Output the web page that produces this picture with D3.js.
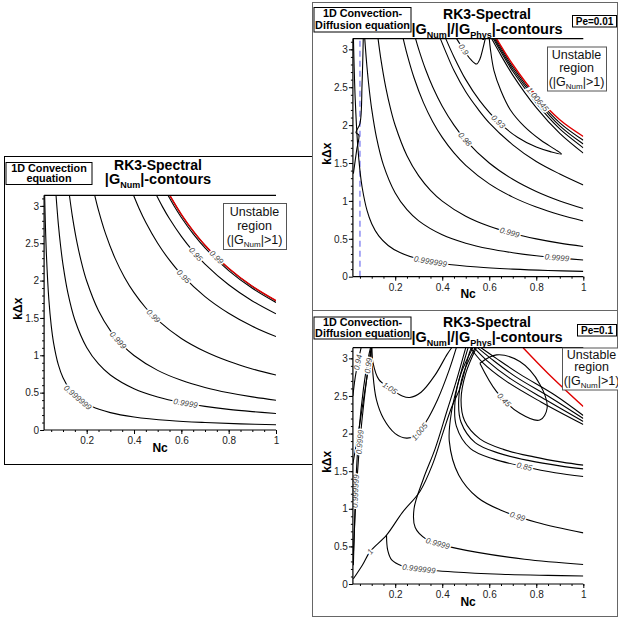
<!DOCTYPE html>
<html>
<head>
<meta charset="utf-8">
<script src="https://cdn.jsdelivr.net/npm/d3@7"></script>
<style>
  body { margin: 0; background: #fff; }
  svg { display: block; }
  text { font-family: "Liberation Sans", Arial, Helvetica, sans-serif; }
</style>
</head>
<body>
<svg width="618" height="619"></svg>
<script>
const svg = d3.select("svg");

// ---------------- data ----------------
const xDomain = [0.02, 1];
const kMax = Math.PI;
const xMajor = [0.2, 0.4, 0.6, 0.8, 1];
const yMajor = [0, 0.5, 1, 1.5, 2, 2.5, 3];

// left panel: 1D convection, |G_Num| contours  [Nc, k dx]
const convLines = [
  [[0.0223,3.1416],[0.025,2.8],[0.03,2.333],[0.04,1.75],[0.05,1.4],[0.06,1.167],[0.08,0.875],[0.1,0.7],[0.13,0.538],[0.17,0.412],[0.22,0.318],[0.3,0.233],[0.4,0.175],[0.55,0.127],[0.7,0.1],[0.85,0.082],[1,0.07]],
  [[0.0704,3.1416],[0.08,2.763],[0.09,2.456],[0.1,2.21],[0.12,1.842],[0.15,1.473],[0.2,1.105],[0.25,0.884],[0.3,0.737],[0.4,0.553],[0.5,0.442],[0.6,0.368],[0.7,0.316],[0.8,0.276],[0.9,0.246],[1,0.221]],
  [[0.127,3.1416],[0.14,2.85],[0.16,2.494],[0.18,2.217],[0.2,1.995],[0.25,1.596],[0.3,1.33],[0.35,1.14],[0.4,0.998],[0.5,0.798],[0.6,0.665],[0.7,0.57],[0.8,0.499],[0.9,0.443],[1,0.399]],
  [[0.234,3.1416],[0.25,2.94],[0.28,2.625],[0.32,2.297],[0.36,2.042],[0.4,1.838],[0.45,1.633],[0.5,1.47],[0.6,1.225],[0.7,1.05],[0.8,0.919],[0.9,0.817],[1,0.735]],
  [[0.398,3.1416],[0.42,2.976],[0.45,2.778],[0.5,2.5],[0.55,2.273],[0.6,2.083],[0.7,1.786],[0.8,1.563],[0.9,1.389],[1,1.25]],
  [[0.495,3.1416],[0.52,2.99],[0.55,2.827],[0.6,2.592],[0.65,2.392],[0.7,2.221],[0.8,1.944],[0.9,1.728],[1,1.555]],
  [[0.5434,3.1416],[0.57,2.995],[0.6,2.845],[0.65,2.626],[0.7,2.439],[0.8,2.134],[0.9,1.897],[1,1.707]],
  [[0.5504,3.1416],[0.6,2.882],[0.65,2.66],[0.7,2.47],[0.8,2.161],[0.9,1.921],[1,1.729]]
];
const convUnstable = [[0.5513,3.1416],[0.6,2.887],[0.65,2.665],[0.7,2.474],[0.8,2.165],[0.9,1.924],[1,1.732]];
const convLabelText = ["0.999999","0.9999","0.999","0.99","0.95","0.95","0.99"];
const convLabelAt = [[0.165,0.446],[0.615,0.335],[0.334,1.205],[0.489,1.54],[0.608,2.05],[0.653,2.33],[0.749,2.31]];

// top right: convection-diffusion, Pe = 0.01
const pe1Lines = [
  [[0.064,3.1416],[0.059,2.55],[0.05,2.02],[0.033,1.9],[0.045,1.87],[0.036,1.67],[0.022,1.36]],
  [[0.0223,3.1416],[0.025,2.8],[0.03,2.333],[0.04,1.75],[0.05,1.4],[0.06,1.167],[0.08,0.875],[0.1,0.7],[0.13,0.538],[0.17,0.412],[0.22,0.318],[0.3,0.233],[0.4,0.175],[0.55,0.127],[0.7,0.1],[0.85,0.082],[1,0.07]],
  [[0.0704,3.1416],[0.08,2.763],[0.09,2.456],[0.1,2.21],[0.12,1.842],[0.15,1.473],[0.2,1.105],[0.25,0.884],[0.3,0.737],[0.4,0.553],[0.5,0.442],[0.6,0.368],[0.7,0.316],[0.8,0.276],[0.9,0.246],[1,0.221]],
  [[0.127,3.1416],[0.14,2.85],[0.16,2.494],[0.18,2.217],[0.2,1.995],[0.25,1.596],[0.3,1.33],[0.35,1.14],[0.4,0.998],[0.5,0.798],[0.6,0.665],[0.7,0.57],[0.8,0.499],[0.9,0.443],[1,0.399]],
  [[0.234,3.1416],[0.25,2.94],[0.28,2.625],[0.32,2.297],[0.36,2.042],[0.4,1.838],[0.45,1.633],[0.5,1.47],[0.6,1.225],[0.7,1.05],[0.8,0.919],[0.9,0.817],[1,0.735]],
  [[0.2865,3.1416],[0.3,3.0],[0.33,2.727],[0.36,2.5],[0.4,2.25],[0.45,2.0],[0.5,1.8],[0.6,1.5],[0.7,1.286],[0.8,1.125],[0.9,1.0],[1,0.9]],
  [[0.392,3.1416],[0.42,2.93],[0.45,2.72],[0.5,2.44],[0.55,2.22],[0.6,2.03],[0.7,1.74],[0.8,1.52],[0.9,1.355],[1,1.21]],
  [[0.415,3.1416],[0.45,2.9],[0.5,2.6],[0.56,2.32],[0.638,2.045],[0.72,1.84],[0.8,1.71],[0.86,1.65],[0.907,1.62],[0.88,1.68],[0.82,1.8],[0.75,1.98],[0.69,2.2],[0.65,2.45],[0.62,2.72],[0.605,3.0],[0.6,3.1416]],
  [[0.461,3.1416],[0.49,3.0],[0.52,2.87],[0.546,2.806],[0.56,2.87],[0.572,3.0],[0.583,3.1416]],
  [[0.61,3.1416],[0.65,2.92],[0.7,2.66],[0.8,2.23],[0.9,1.89],[1,1.63]],
  [[0.617,3.1416],[0.7,2.71],[0.8,2.29],[0.9,1.95],[1,1.70]],
  [[0.622,3.1416],[0.7,2.74],[0.8,2.33],[0.9,1.99],[1,1.75]],
  [[0.627,3.1416],[0.7,2.77],[0.8,2.36],[0.9,2.03],[1,1.80]]
];
const pe1Unstable = [[0.631,3.1416],[0.7,2.80],[0.8,2.39],[0.9,2.07],[1,1.85]];
const pe1Dashed = 0.05;
const pe1LabelText = ["0.9","0.93","0.98","1.00645","0.999","0.9999","0.999999"];
const pe1LabelAt = [[0.482,2.98],[0.638,2.045],[0.492,1.8],[0.815,2.36],[0.687,0.6],[0.886,0.25],[0.348,0.2]];

// bottom right: convection-diffusion, Pe = 0.1
const pe2Lines = [
  [[0.022,0.07],[0.06,0.25],[0.093,0.43],[0.163,0.65],[0.23,0.95],[0.305,1.23],[0.36,1.6],[0.404,2.02],[0.44,2.35],[0.475,2.6],[0.517,3.09],[0.525,3.1416]],
  [[0.163,0.65],[0.168,0.45],[0.185,0.32],[0.23,0.24],[0.3,0.2],[0.45,0.16],[0.65,0.13],[0.85,0.115],[1,0.107]],
  [[0.5,3.1416],[0.46,2.7],[0.42,2.3],[0.37,1.8],[0.32,1.4],[0.28,1.0],[0.285,0.75],[0.33,0.6],[0.4,0.52],[0.55,0.42],[0.75,0.33],[1,0.26]],
  [[0.51,3.1416],[0.47,2.7],[0.44,2.3],[0.43,1.9],[0.47,1.45],[0.55,1.15],[0.65,0.98],[0.8,0.82],[1,0.68]],
  [[0.53,3.1416],[0.48,2.8],[0.455,2.45],[0.46,2.1],[0.52,1.8],[0.62,1.66],[0.75,1.56],[0.88,1.48],[1,1.43]],
  [[0.54,3.1416],[0.49,2.8],[0.47,2.45],[0.48,2.15],[0.54,1.88],[0.64,1.74],[0.77,1.64],[0.9,1.57],[1,1.53]],
  [[0.545,3.1416],[0.5,2.8],[0.48,2.45],[0.495,2.17],[0.56,1.93],[0.66,1.79],[0.79,1.69],[0.91,1.62],[1,1.58]],
  [[0.1,3.1416],[0.105,2.8],[0.12,2.45],[0.15,2.2],[0.2,2.0],[0.248,1.94],[0.29,1.98],[0.33,2.15],[0.38,2.45],[0.43,2.85],[0.46,3.1416]],
  [[0.1,3.1416],[0.105,2.95],[0.13,2.72],[0.178,2.6],[0.23,2.5],[0.262,2.48],[0.31,2.55],[0.37,2.78],[0.42,3.05],[0.44,3.1416]],
  [[0.022,0.25],[0.027,0.8],[0.032,1.3],[0.045,2.0],[0.065,2.6],[0.085,3.0],[0.095,3.1416]],
  [[0.022,0.4],[0.03,0.95],[0.04,1.5],[0.05,1.9],[0.068,2.45],[0.088,2.95],[0.098,3.1416]],
  [[0.02,1.6],[0.045,2.05],[0.06,2.35],[0.08,2.75],[0.095,3.05],[0.1,3.1416]],
  [[0.02,2.5],[0.03,2.75],[0.045,3.0],[0.055,3.1416]],
  [[0.52,3.1416],[0.57,2.95],[0.67,2.7],[0.82,2.42],[1,2.12]],
  [[0.535,3.1416],[0.59,2.97],[0.69,2.73],[0.84,2.45],[1,2.16]],
  [[0.55,3.1416],[0.61,2.99],[0.71,2.76],[0.86,2.48],[1,2.2]],
  [[0.565,3.1416],[0.63,3.0],[0.73,2.79],[0.88,2.51],[1,2.24]],
  [[0.56,2.935],[0.631,3.046],[0.73,2.957],[0.815,2.657],[0.846,2.336],[0.815,2.18],[0.73,2.269],[0.631,2.558],[0.56,2.935]]
];
const pe2Unstable = [[0.744,3.1416],[0.85,2.8],[1,2.36]];
const pe2LabelText = ["1","0.999999","0.9999","0.99","0.85","1.005","1.05","0.45","0.999999","0.9999","0.99","0.94"];
const pe2LabelAt = [[0.093,0.43],[0.3,0.2],[0.38,0.55],[0.72,0.9],[0.75,1.56],[0.294,2.05],[0.178,2.62],[0.68,2.5],[0.03,1.23],[0.048,1.89],[0.085,2.9],[0.036,2.95]];

// ---------------- layout ----------------
const panels = [
  {
    frame: [4, 156, 308, 308], frameColor: "#000",
    px: [44.1, 276], py: [430, 195.3],
    lines: convLines, red: convUnstable, labelText: convLabelText, labelAt: convLabelAt,
    box: [5.5, 162, 86, 22], boxLines: ["1D Convection", "equation"], boxBase: [171.5, 182],
    title: [158, 169.5, 184], ratio: false,
    unstable: [223, 203, 63, 46], unstableBase: [216, 229.5, 244], unstableX: 254.5
  },
  {
    frame: [312, 2, 305, 308], frameColor: "#666",
    px: [352.9, 583.3], py: [276.7, 38.6],
    lines: pe1Lines, red: pe1Unstable, labelText: pe1LabelText, labelAt: pe1LabelAt, dashed: pe1Dashed,
    box: [313.5, 7, 97, 24.5], boxLines: ["1D Convection-", "Diffusion equation"], boxBase: [17, 28.5],
    title: [487, 18.5, 33.5], ratio: true,
    pe: "Pe=0.01", peBox: [572, 15, 44, 11.5],
    unstable: [547, 46.5, 59, 44], unstableBase: [59, 71.5, 85.5], unstableX: 576.5
  },
  {
    frame: [312, 310, 305, 306], frameColor: "#666",
    px: [352.9, 583.3], py: [584, 347.7],
    lines: pe2Lines, red: pe2Unstable, labelText: pe2LabelText, labelAt: pe2LabelAt,
    box: [313.5, 316.5, 97, 22], boxLines: ["1D Convection-", "Diffusion equation"], boxBase: [326, 337],
    title: [487, 327, 342], ratio: true,
    pe: "Pe=0.1", peBox: [577, 324, 39, 11.5],
    unstable: [562, 347.5, 62, 42], unstableBase: [358.5, 371, 384.5], unstableX: 591.5
  }
];

panels.forEach((p, i) => drawPanel(p, i));

function drawPanel(p, idx) {
  const g = svg.append("g");

  g.append("rect")
    .attr("x", p.frame[0] + 0.5).attr("y", p.frame[1] + 0.5)
    .attr("width", p.frame[2]).attr("height", p.frame[3])
    .attr("fill", "#fff").attr("stroke", p.frameColor).attr("stroke-width", 1);

  const x = d3.scaleLinear().domain(xDomain).range(p.px);
  const y = d3.scaleLinear().domain([0, kMax]).range(p.py);

  const clipId = "clip" + idx;
  g.append("clipPath").attr("id", clipId)
    .append("rect")
    .attr("x", p.px[0]).attr("y", p.py[1])
    .attr("width", p.px[1] - p.px[0]).attr("height", p.py[0] - p.py[1]);

  const plot = g.append("g").attr("clip-path", `url(#${clipId})`);

  const line = d3.line()
    .x(d => x(d[0]))
    .y(d => y(d[1]))
    .curve(d3.curveCatmullRom.alpha(0.5));

  if (p.dashed !== undefined) {
    plot.append("line")
      .attr("x1", x(p.dashed)).attr("x2", x(p.dashed))
      .attr("y1", y(0)).attr("y2", y(kMax))
      .attr("stroke", "#7b7bf0").attr("stroke-width", 1.3)
      .attr("stroke-dasharray", "6,4");
  }

  const paths = p.lines.map(pts => plot.append("path")
    .attr("d", line(pts))
    .attr("fill", "none")
    .attr("stroke", "#000")
    .attr("stroke-width", 1.1));

  plot.append("path")
    .attr("d", line(p.red))
    .attr("fill", "none")
    .attr("stroke", "#e00000")
    .attr("stroke-width", 1.4);

  // contour labels, placed on the nearest drawn line
  const allNodes = paths.map(s => s.node());
  p.labelText.forEach((txt, j) => {
    const tx = x(p.labelAt[j][0]), ty = y(p.labelAt[j][1]);
    let best = null, bd = Infinity;
    allNodes.forEach(node => {
      const L = node.getTotalLength();
      for (let s = 0; s <= L; s += 1) {
        const q = node.getPointAtLength(s);
        const d = (q.x - tx) ** 2 + (q.y - ty) ** 2;
        if (d < bd) { bd = d; best = { node, s, L }; }
      }
    });
    const q = best.node.getPointAtLength(best.s);
    const a = best.node.getPointAtLength(Math.max(0, best.s - 4));
    const b = best.node.getPointAtLength(Math.min(best.L, best.s + 4));
    let ang = Math.atan2(b.y - a.y, b.x - a.x) * 180 / Math.PI;
    if (ang > 90) ang -= 180;
    if (ang < -90) ang += 180;
    plot.append("text")
      .attr("transform", `translate(${q.x},${q.y}) rotate(${ang})`)
      .attr("text-anchor", "middle")
      .attr("dy", "0.33em")
      .attr("font-size", 8)
      .attr("font-style", "italic")
      .attr("fill", "#444")
      .attr("stroke", "#fff")
      .attr("stroke-width", 3)
      .attr("paint-order", "stroke")
      .text(txt);
  });

  // axes frame: left, bottom, top
  g.append("line").attr("x1", p.px[0]).attr("x2", p.px[1])
    .attr("y1", p.py[1]).attr("y2", p.py[1]).attr("stroke", "#000").attr("stroke-width", 1.2);
  g.append("line").attr("x1", p.px[0]).attr("x2", p.px[0])
    .attr("y1", p.py[1]).attr("y2", p.py[0]).attr("stroke", "#000").attr("stroke-width", 1.2);
  g.append("line").attr("x1", p.px[0]).attr("x2", p.px[1])
    .attr("y1", p.py[0]).attr("y2", p.py[0]).attr("stroke", "#000").attr("stroke-width", 1.2);

  const xAxis = d3.axisBottom(x).tickValues(xMajor).tickSize(4).tickFormat(d3.format("~g"));
  const xMinor = d3.axisBottom(x).tickValues(d3.range(0.05, 1.0001, 0.05)).tickSize(2).tickFormat("");
  const yAxis = d3.axisLeft(y).tickValues(yMajor).tickSize(4).tickFormat(d3.format("~g"));
  const yMinor = d3.axisLeft(y).tickValues(d3.range(0.1, 3.15, 0.1)).tickSize(2).tickFormat("");

  [xMinor, xAxis].forEach(ax => {
    const a = g.append("g").attr("transform", `translate(0,${p.py[0]})`).call(ax);
    a.select(".domain").remove();
    a.selectAll("line").attr("stroke", "#000");
    a.selectAll("text").attr("font-size", 10).attr("fill", "#222").attr("y", 7);
  });
  [yMinor, yAxis].forEach(ax => {
    const a = g.append("g").attr("transform", `translate(${p.px[0]},0)`).call(ax);
    a.select(".domain").remove();
    a.selectAll("line").attr("stroke", "#000");
    a.selectAll("text").attr("font-size", 10).attr("fill", "#222").attr("x", -5);
  });

  const cx = (p.px[0] + p.px[1]) / 2, cy = (p.py[0] + p.py[1]) / 2;
  g.append("text").attr("x", cx).attr("y", p.py[0] + 21.5)
    .attr("text-anchor", "middle").attr("font-size", 12).attr("font-weight", "bold").text("Nc");
  g.append("text")
    .attr("transform", `translate(${p.px[0] - 22},${cy - 4}) rotate(-90)`)
    .attr("text-anchor", "middle").attr("font-size", 12).attr("font-weight", "bold").text("k\u0394x");

  // equation box
  g.append("rect").attr("x", p.box[0] + 0.5).attr("y", p.box[1] + 0.5)
    .attr("width", p.box[2]).attr("height", p.box[3])
    .attr("fill", "#fff").attr("stroke", "#000").attr("stroke-width", 1);
  p.boxLines.forEach((t, j) => {
    g.append("text").attr("x", p.box[0] + p.box[2] / 2 + 0.5).attr("y", p.boxBase[j])
      .attr("text-anchor", "middle").attr("font-size", 10.8).attr("font-weight", "bold").text(t);
  });

  // title
  g.append("text").attr("x", p.title[0]).attr("y", p.title[1])
    .attr("text-anchor", "middle").attr("font-size", 14).attr("font-weight", "bold").text("RK3-Spectral");
  const t2 = g.append("text").attr("x", p.title[0]).attr("y", p.title[2])
    .attr("text-anchor", "middle").attr("font-size", 14.5).attr("font-weight", "bold");
  t2.append("tspan").text("|G");
  t2.append("tspan").attr("font-size", 9).attr("dy", 4).text("Num");
  if (p.ratio) {
    t2.append("tspan").attr("dy", -4).text("|/|G");
    t2.append("tspan").attr("font-size", 9).attr("dy", 4).text("Phys");
  }
  t2.append("tspan").attr("dy", -4).text("|-contours");

  if (p.pe) {
    g.append("rect").attr("x", p.peBox[0] + 0.5).attr("y", p.peBox[1] + 0.5)
      .attr("width", p.peBox[2]).attr("height", p.peBox[3])
      .attr("fill", "#fff").attr("stroke", "#000").attr("stroke-width", 1);
    g.append("text").attr("x", p.peBox[0] + p.peBox[2] / 2 + 0.5).attr("y", p.peBox[1] + p.peBox[3] - 2)
      .attr("text-anchor", "middle").attr("font-size", 10).attr("font-weight", "bold").text(p.pe);
  }

  // unstable region note
  g.append("rect").attr("x", p.unstable[0] + 0.5).attr("y", p.unstable[1] + 0.5)
    .attr("width", p.unstable[2]).attr("height", p.unstable[3])
    .attr("fill", "#fff").attr("stroke", "#555").attr("stroke-width", 1);
  const uAttr = t => t.attr("x", p.unstableX).attr("text-anchor", "middle")
    .attr("font-size", 12.5).attr("fill", "#111");
  uAttr(g.append("text").attr("y", p.unstableBase[0])).text("Unstable");
  uAttr(g.append("text").attr("y", p.unstableBase[1])).text("region");
  const u3 = uAttr(g.append("text").attr("y", p.unstableBase[2]));
  u3.append("tspan").text("(|G");
  u3.append("tspan").attr("font-size", 8).attr("dy", 3).text("Num");
  u3.append("tspan").attr("dy", -3).text("|>1)");
}
</script>
</body>
</html>
